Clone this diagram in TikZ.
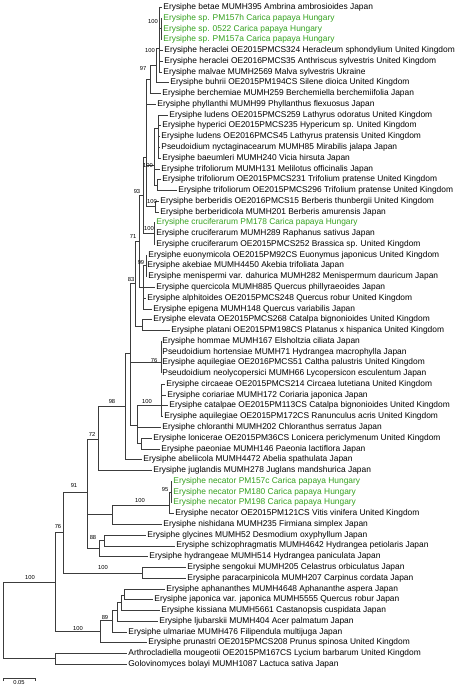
\documentclass[tikz,border=0pt]{standalone}
\usepackage{fontspec}
\setmainfont{Liberation Sans}
\definecolor{grn}{RGB}{52,160,30}
\definecolor{ln}{RGB}{60,60,60}
\begin{document}
\begin{tikzpicture}[x=1pt,y=-1pt,
  leaf/.style={anchor=west,inner xsep=1.2pt,inner ysep=0pt,font=\fontsize{8.4}{9}\selectfont},
  gleaf/.style={leaf,text=grn},
  bs/.style={font=\fontsize{5.8}{6}\selectfont,inner sep=0pt},
  br/.style={draw=ln,line width=0.6pt}]
\useasboundingbox (0,0) rectangle (474,686);
\newcommand\lf[5][leaf]{\node[#1] (#2) at (#3,{7.3+(#4-1)*10.77}) {#5};}
% leaves
\lf{l1}{162}{1}{Erysiphe betae MUMH395 Ambrina ambrosioides Japan}
\lf[gleaf]{l2}{162}{2}{Erysiphe sp. PM157h Carica papaya Hungary}
\lf[gleaf]{l3}{162}{3}{Erysiphe sp. 0522 Carica papaya Hungary}
\lf[gleaf]{l4}{162}{4}{Erysiphe sp. PM157a Carica papaya Hungary}
\lf{l5}{163}{5}{Erysiphe heraclei OE2015PMCS324 Heracleum sphondylium United Kingdom}
\lf{l6}{163}{6}{Erysiphe heraclei OE2016PMCS35 Anthriscus sylvestris United Kingdom}
\lf{l7}{162}{7}{Erysiphe malvae MUMH2569 Malva sylvestris Ukraine}
\lf{l8}{169}{8}{Erysiphe buhrii OE2015PM194CS Silene dioica United Kingdom}
\lf{l9}{161}{9}{Erysiphe berchemiae MUMH259 Berchemiella berchemiifolia Japan}
\lf{l10}{156}{10}{Erysiphe phyllanthi MUMH99 Phyllanthus flexuosus Japan}
\lf{l11}{168}{11}{Erysiphe ludens OE2015PMCS259 Lathyrus odoratus United Kingdom}
\lf{l12}{161}{12}{Erysiphe hyperici OE2015PMCS235 Hypericum sp. United Kingdom}
\lf{l13}{160}{13}{Erysiphe ludens OE2016PMCS45 Lathyrus pratensis United Kingdom}
\lf{l14}{160}{14}{Pseudoidium nyctaginacearum MUMH85 Mirabilis jalapa Japan}
\lf{l15}{161}{15}{Erysiphe baeumleri MUMH240 Vicia hirsuta Japan}
\lf{l16}{160}{16}{Erysiphe trifoliorum MUMH131 Melilotus officinalis Japan}
\lf{l17}{161}{17}{Erysiphe trifoliorum OE2015PMCS231 Trifolium pratense United Kingdom}
\lf{l18}{177}{18}{Erysiphe trifoliorum OE2015PMCS296 Trifolium pratense United Kingdom}
\lf{l19}{159}{19}{Erysiphe berberidis OE2016PMCS15 Berberis thunbergii United Kingdom}
\lf{l20}{159}{20}{Erysiphe berberidicola MUMH201 Berberis amurensis Japan}
\lf[gleaf]{l21}{155}{21}{Erysiphe cruciferarum PM178 Carica papaya Hungary}
\lf{l22}{155}{22}{Erysiphe cruciferarum MUMH289 Raphanus sativus Japan}
\lf{l23}{155}{23}{Erysiphe cruciferarum OE2015PMCS252 Brassica sp. United Kingdom}
\lf{l24}{147}{24}{Erysiphe euonymicola OE2015PM92CS Euonymus japonicus United Kingdom}
\lf{l25}{146}{25}{Erysiphe akebiae MUMH4450 Akebia trifoliata Japan}
\lf{l26}{147}{26}{Erysiphe menispermi var. dahurica MUMH282 Menispermum dauricum Japan}
\lf{l27}{155}{27}{Erysiphe quercicola MUMH885 Quercus phillyraeoides Japan}
\lf{l28}{146}{28}{Erysiphe alphitoides OE2015PMCS248 Quercus robur United Kingdom}
\lf{l29}{152}{29}{Erysiphe epigena MUMH148 Quercus variabilis Japan}
\lf{l30}{152}{30}{Erysiphe elevata OE2015PMCS268 Catalpa bignonioides United Kingdom}
\lf{l31}{170}{31}{Erysiphe platani OE2015PM198CS Platanus x hispanica United Kingdom}
\lf{l32}{161}{32}{Erysiphe hommae MUMH167 Elsholtzia ciliata Japan}
\lf{l33}{161}{33}{Pseudoidium hortensiae MUMH71 Hydrangea macrophylla Japan}
\lf{l34}{161}{34}{Erysiphe aquilegiae OE2016PMCS51 Caltha palustris United Kingdom}
\lf{l35}{161}{35}{Pseudoidium neolycopersici MUMH66 Lycopersicon esculentum Japan}
\lf{l36}{165}{36}{Erysiphe circaeae OE2015PMCS214 Circaea lutetiana United Kingdom}
\lf{l37}{166}{37}{Erysiphe coriariae MUMH172 Coriaria japonica Japan}
\lf{l38}{168}{38}{Erysiphe catalpae OE2015PM113CS Catalpa bignonioides United Kingdom}
\lf{l39}{163}{39}{Erysiphe aquilegiae OE2015PM172CS Ranunculus acris United Kingdom}
\lf{l40}{161}{40}{Erysiphe chloranthi MUMH202 Chloranthus serratus Japan}
\lf{l41}{152}{41}{Erysiphe lonicerae OE2015PM36CS Lonicera periclymenum United Kingdom}
\lf{l42}{160}{42}{Erysiphe paeoniae MUMH146 Paeonia lactiflora Japan}
\lf{l43}{142}{43}{Erysiphe abeliicola MUMH4472 Abelia spathulata Japan}
\lf{l44}{152}{44}{Erysiphe juglandis MUMH278 Juglans mandshurica Japan}
\lf[gleaf]{l45}{172}{45}{Erysiphe necator PM157c Carica papaya Hungary}
\lf[gleaf]{l46}{172}{46}{Erysiphe necator PM180 Carica papaya Hungary}
\lf[gleaf]{l47}{172}{47}{Erysiphe necator PM198 Carica papaya Hungary}
\lf{l48}{174}{48}{Erysiphe necator OE2015PM121CS Vitis vinifera United Kingdom}
\lf{l49}{162}{49}{Erysiphe nishidana MUMH235 Firmiana simplex Japan}
\lf{l50}{146}{50}{Erysiphe glycines MUMH52 Desmodium oxyphyllum Japan}
\lf{l51}{175}{51}{Erysiphe schizophragmatis MUMH4642 Hydrangea petiolaris Japan}
\lf{l52}{148}{52}{Erysiphe hydrangeae MUMH514 Hydrangea paniculata Japan}
\lf{l53}{186}{53}{Erysiphe sengokui MUMH205 Celastrus orbiculatus Japan}
\lf{l54}{186}{54}{Erysiphe paracarpinicola MUMH207 Carpinus cordata Japan}
\lf{l55}{165}{55}{Erysiphe aphananthes MUMH4648 Aphananthe aspera Japan}
\lf{l56}{153}{56}{Erysiphe japonica var. japonica MUMH5555 Quercus robur Japan}
\lf{l57}{160}{57}{Erysiphe kissiana MUMH5661 Castanopsis cuspidata Japan}
\lf{l58}{158}{58}{Erysiphe ljubarskii MUMH404 Acer palmatum Japan}
\lf{l59}{127}{59}{Erysiphe ulmariae MUMH476 Filipendula multijuga Japan}
\lf{l60}{147}{60}{Erysiphe prunastri OE2015PMCS208 Prunus spinosa United Kingdom}
\lf{l61}{127}{61}{Arthrocladiella mougeotii OE2015PM167CS Lycium barbarum United Kingdom}
\lf{l62}{127}{62}{Golovinomyces bolayi MUMH1087 Lactuca sativa Japan}
% internal nodes
\coordinate (G) at (161,28.5);
\coordinate (N1) at (159.5,48);
\coordinate (N2) at (156,65);
\coordinate (N3) at (150,79);
\coordinate (L1) at (158,128);
\coordinate (LT) at (157,185);
\coordinate (L2) at (154,165);
\coordinate (Ber) at (155,206);
\coordinate (W) at (146.5,157);
\coordinate (Cru) at (154,233);
\coordinate (N93) at (143,195);
\coordinate (Q99) at (146,265);
\coordinate (Qq) at (143,287);
\coordinate (N71) at (139,241);
\coordinate (EP) at (142,326);
\coordinate (N83) at (135,283);
\coordinate (H76) at (161,362);
\coordinate (Circ) at (161,405);
\coordinate (NL) at (141,443);
\coordinate (Nchl) at (137,425);
\coordinate (X) at (130,353);
\coordinate (N98) at (125,406);
\coordinate (N72) at (98,439);
\coordinate (Nec95) at (171,492);
\coordinate (Nec) at (169,505);
\coordinate (Nn) at (112,514);
\coordinate (Ng) at (104,540);
\coordinate (N88) at (99,548);
\coordinate (N91) at (87,492);
\coordinate (Nseng) at (142,573);
\coordinate (N76) at (63,532);
\coordinate (NE) at (124,595);
\coordinate (ND) at (121,602);
\coordinate (NC) at (117,610);
\coordinate (NB) at (112,620);
\coordinate (NA) at (100,631);
\coordinate (Nin) at (55,582);
\coordinate (Nout) at (55,658);
\coordinate (R) at (3,620);
% edges
\foreach \p/\c in {G/l2,G/l3,G/l4,N1/l1,N1/G,N1/l5,N1/l6,N1/l7,N2/N1,N2/l8,N3/N2,N3/l9,
  W/N3,W/l10,W/L2,W/Ber,L1/l11,L1/l12,L1/l13,L1/l14,L1/l15,LT/l17,LT/l18,L2/L1,L2/l16,L2/LT,
  Ber/l19,Ber/l20,Cru/l21,Cru/l22,Cru/l23,N93/W,N93/Cru,
  Q99/l24,Q99/l25,Q99/l26,Qq/Q99,Qq/l27,Qq/l28,Qq/l29,N71/N93,N71/Qq,EP/l30,EP/l31,N83/N71,N83/EP,
  H76/l32,H76/l33,H76/l34,H76/l35,Circ/l36,Circ/l37,Circ/l38,Circ/l39,NL/l41,NL/l42,
  Nchl/Circ,Nchl/l40,Nchl/NL,X/N83,X/H76,X/Nchl,N98/X,N98/l43,N72/N98,N72/l44,
  Nec95/l45,Nec95/l46,Nec95/l47,Nec/Nec95,Nec/l48,Nn/Nec,Nn/l49,Ng/l50,Ng/l51,N88/Ng,N88/l52,
  N91/N72,N91/Nn,N91/N88,Nseng/l53,Nseng/l54,N76/N91,N76/Nseng,
  NE/l55,NE/l56,ND/NE,ND/l57,NC/ND,NC/l58,NB/NC,NB/l59,NA/NB,NA/l60,Nin/N76,Nin/NA,
  Nout/l61,Nout/l62,R/Nin,R/Nout}
  \draw[br] (\p) |- (\c);
% bootstrap values
\node[bs] (b1) at (153,22) {100};
\node[bs] (b2) at (150,50) {100};
\node[bs] (b3) at (143,69) {97};
\node[bs] (b4) at (148,165) {100};
\node[bs] (b5) at (137,191) {93};
\node[bs] (b6) at (152,201) {100};
\node[bs] (b7) at (149,228) {100};
\node[bs] (b8) at (133,237) {71};
\node[bs] (b9) at (141,262) {99};
\node[bs] (b10) at (131,279) {83};
\node[bs] (b11) at (154,360) {76};
\node[bs] (b12) at (147,401) {100};
\node[bs] (b13) at (112,401) {98};
\node[bs] (b14) at (92,434) {72};
\node[bs] (b15) at (74,485) {91};
\node[bs] (b16) at (165,489) {95};
\node[bs] (b17) at (140,500) {100};
\node[bs] (b18) at (58,526) {76};
\node[bs] (b19) at (93,537) {88};
\node[bs] (b20) at (103,567) {100};
\node[bs] (b21) at (30,577) {100};
\node[bs] (b22) at (105,617) {89};
\node[bs] (b23) at (78,628) {100};
% scale bar
\coordinate (s1) at (3,678);
\coordinate (s2) at (35,678);
\draw[br] ([yshift=-3pt]s1) -- (s1) -- (s2) -- ([yshift=-3pt]s2);
\node[bs,anchor=north] (sl) at (19,680) {0.05};
\end{tikzpicture}
\end{document}
